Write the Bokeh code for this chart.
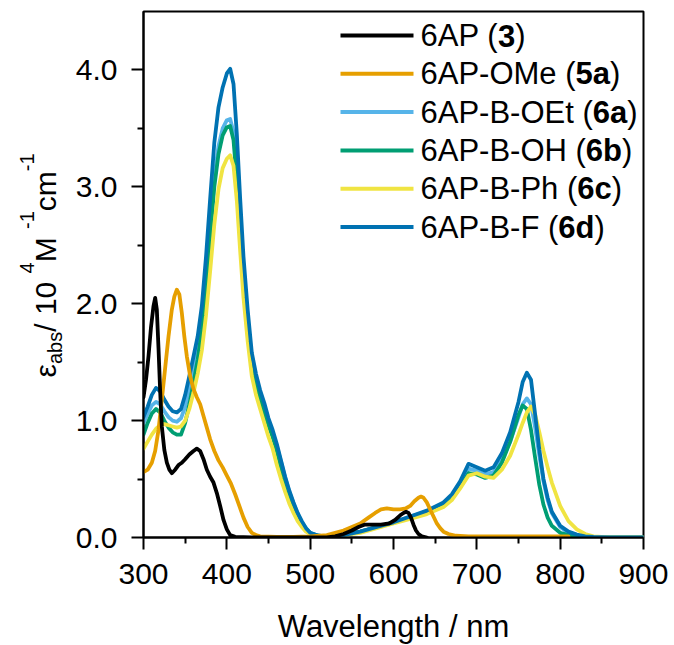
import math
from bokeh.plotting import figure
from bokeh.layouts import row, column
from bokeh.models import FixedTicker, NumeralTickFormatter, Label, BoxAnnotation
from bokeh.embed import file_html
from bokeh.resources import INLINE

# ---------------- data ----------------
# 6AP (3)
wl_3 = [300, 303, 306, 309, 312, 314, 316, 318, 320, 322, 325, 328, 331, 334, 338, 342, 346, 350, 355,
        360, 364, 368, 372, 376, 380, 384, 388, 392, 396, 400, 404, 410, 430, 460, 500, 520, 530, 540,
        550, 558, 565, 575, 585, 595, 602, 608, 612, 615, 618, 621, 624, 627, 630, 634, 640]
eps_3 = [1.2, 1.35, 1.55, 1.8, 1.98, 2.05, 1.95, 1.62, 1.25, 0.95, 0.75, 0.64, 0.58, 0.55, 0.58, 0.62, 0.64, 0.67, 0.71,
         0.74, 0.76, 0.74, 0.67, 0.58, 0.52, 0.47, 0.38, 0.27, 0.15, 0.07, 0.02, 0.005, 0.0, 0.0, 0.0, 0.0, 0.01, 0.03,
         0.06, 0.09, 0.11, 0.11, 0.11, 0.12, 0.15, 0.19, 0.21, 0.22, 0.21, 0.17, 0.11, 0.06, 0.03, 0.01, 0.0]

# 6AP-OMe (5a)
wl_5a = [300, 305, 310, 314, 318, 322, 326, 330, 334, 337, 340, 343, 346, 349, 352, 356, 360, 364, 368,
         372, 376, 380, 385, 390, 395, 400, 405, 410, 415, 420, 425, 430, 435, 440, 460, 480, 500, 520,
         530, 540, 550, 560, 570, 578, 585, 592, 600, 608, 615, 620, 625, 630, 633, 636, 640, 644, 648,
         652, 656, 660, 666, 675, 690, 720, 760, 810]
eps_5a = [0.56, 0.58, 0.64, 0.74, 0.92, 1.18, 1.45, 1.72, 1.95, 2.06, 2.12, 2.08, 1.92, 1.72, 1.55, 1.38, 1.27, 1.2, 1.14,
          1.04, 0.94, 0.84, 0.74, 0.66, 0.6, 0.53, 0.46, 0.37, 0.27, 0.17, 0.09, 0.04, 0.02, 0.01, 0.005, 0.005, 0.01, 0.02,
          0.04, 0.06, 0.09, 0.12, 0.17, 0.21, 0.24, 0.25, 0.24, 0.24, 0.25, 0.27, 0.31, 0.34, 0.35, 0.34, 0.3, 0.24, 0.18,
          0.12, 0.08, 0.05, 0.03, 0.015, 0.01, 0.01, 0.01, 0.01]

# common wavelength grid for 6a-6d
wl_6 = [300, 305, 310, 315, 320, 325, 330, 335, 340, 345, 350, 355, 360, 365, 370, 375, 380, 385, 390, 395,
        400, 404, 408, 412, 416, 420, 425, 430, 435, 440, 445, 450, 455, 460, 465, 470, 475, 480, 485, 490,
        495, 500, 510, 520, 540, 560, 580, 600, 620, 640, 660, 670, 680, 690, 700, 710, 720, 730, 740, 750,
        755, 760, 765, 770, 775, 780, 785, 790, 800, 810, 820, 830, 840, 860, 880, 900]

# 6AP-B-OEt (6a)
eps_6a = [0.98, 1.06, 1.13, 1.16, 1.14, 1.08, 1.03, 1.0, 0.99, 1.02, 1.12, 1.27, 1.43, 1.6, 1.84, 2.22, 2.66, 3.08, 3.35, 3.5,
          3.57, 3.58, 3.47, 3.1, 2.62, 2.2, 1.82, 1.5, 1.33, 1.21, 1.1, 0.99, 0.89, 0.78, 0.65, 0.51, 0.39, 0.29, 0.2, 0.13,
          0.08, 0.04, 0.015, 0.01, 0.02, 0.05, 0.09, 0.13, 0.18, 0.22, 0.28, 0.34, 0.45, 0.59, 0.57, 0.54, 0.56, 0.66, 0.82, 1.03,
          1.14, 1.19, 1.14, 0.94, 0.7, 0.48, 0.32, 0.21, 0.09, 0.04, 0.02, 0.01, 0.005, 0.0, 0.0, 0.0]

# 6AP-B-OH (6b)
eps_6b = [0.88, 0.98, 1.06, 1.1, 1.07, 1.0, 0.94, 0.9, 0.88, 0.88, 0.98, 1.14, 1.32, 1.52, 1.78, 2.15, 2.58, 3.0, 3.28, 3.44,
          3.51, 3.52, 3.4, 3.05, 2.58, 2.15, 1.78, 1.46, 1.3, 1.18, 1.07, 0.96, 0.86, 0.74, 0.6, 0.46, 0.35, 0.26, 0.18, 0.12,
          0.07, 0.035, 0.015, 0.01, 0.02, 0.05, 0.09, 0.13, 0.17, 0.21, 0.27, 0.33, 0.43, 0.55, 0.54, 0.51, 0.53, 0.64, 0.82, 1.05,
          1.13, 1.1, 0.92, 0.68, 0.45, 0.28, 0.17, 0.1, 0.04, 0.02, 0.01, 0.005, 0.0, 0.0, 0.0, 0.0]

# 6AP-B-Ph (6c)
eps_6c = [0.76, 0.82, 0.88, 0.93, 0.96, 0.97, 0.96, 0.95, 0.94, 0.95, 1.0, 1.1, 1.24, 1.4, 1.6, 1.9, 2.28, 2.68, 2.98, 3.16,
          3.24, 3.27, 3.18, 2.88, 2.45, 2.05, 1.68, 1.38, 1.22, 1.1, 0.98, 0.86, 0.76, 0.62, 0.5, 0.39, 0.29, 0.21, 0.14, 0.09,
          0.05, 0.03, 0.01, 0.01, 0.02, 0.04, 0.08, 0.12, 0.16, 0.2, 0.26, 0.32, 0.42, 0.53, 0.55, 0.52, 0.51, 0.58, 0.7, 0.88,
          0.98, 1.07, 1.12, 1.05, 0.9, 0.74, 0.6, 0.47, 0.27, 0.14, 0.07, 0.03, 0.01, 0.0, 0.0, 0.0]

# 6AP-B-F (6d)
eps_6d = [1.03, 1.12, 1.22, 1.28, 1.25, 1.18, 1.12, 1.08, 1.07, 1.1, 1.22, 1.38, 1.55, 1.72, 1.98, 2.4, 2.9, 3.38, 3.68, 3.85,
          3.97, 4.01, 3.88, 3.45, 2.9, 2.4, 1.95, 1.58, 1.4, 1.26, 1.15, 1.02, 0.92, 0.8, 0.66, 0.52, 0.4, 0.3, 0.21, 0.14,
          0.08, 0.04, 0.015, 0.01, 0.02, 0.05, 0.09, 0.13, 0.18, 0.23, 0.3, 0.37, 0.48, 0.63, 0.6, 0.57, 0.6, 0.72, 0.9, 1.16,
          1.33, 1.41, 1.35, 1.05, 0.75, 0.5, 0.34, 0.22, 0.1, 0.05, 0.025, 0.01, 0.005, 0.0, 0.0, 0.0]

x_ticks = [300, 400, 500, 600, 700, 800, 900]
x_minor = [350, 450, 550, 650, 750, 850]
y_ticks = [0, 1, 2, 3, 4]
y_minor = [0.5, 1.5, 2.5, 3.5]

legend_normal = ["6AP (", "6AP-OMe (", "6AP-B-OEt (", "6AP-B-OH (", "6AP-B-Ph (", "6AP-B-F ("]
legend_bold = ["3", "5a", "6a", "6b", "6c", "6d"]
colors = ["#000000", "#E69F00", "#56B4E9", "#009E73", "#F0E442", "#0072B2"]
x_label = "Wavelength / nm"
y_label_pieces = ["ε", "abs", " / 10", "4", " M", "-1", "cm", "-1"]

# ---------------- layout constants (page pixels) ----------------
FONT = "Liberation Sans"
TOTAL_W = 668
LAB_W = 72           # strip holding the y-axis label
MAIN_H = 600
XLAB_H = 44
FL, FR, FT, FB = 143, 643, 11, 537   # frame edges in page pixels
MID = 0.35           # distance baseline -> middle line, in em
ROT_DX, ROT_DY = -6.0, 61.0          # empirical correction for rotated labels

W = {' ': .278, '(': .333, ')': .333, '-': .333, '/': .278, 'A': .667, 'B': .667, 'E': .667, 'F': .611,
     'H': .722, 'M': .833, 'O': .778, 'P': .667, 'a': .556, 'b': .556, 'c': .5, 'd': .556, 'e': .556,
     'h': .556, 'm': .833, 's': .5, 't': .278, 'ε': .45}
WB = {'a': .556, 'b': .611, 'c': .556, 'd': .611}


def tw(s, size, bold=False):
    tot = 0.0
    for ch in s:
        if ch.isdigit():
            tot += .556
        elif bold and ch in WB:
            tot += WB[ch]
        else:
            tot += W.get(ch, .556)
    return tot * size


# ---------------- main figure ----------------
p = figure(width=TOTAL_W - LAB_W, height=MAIN_H, x_range=(300, 900), y_range=(0, 4.5),
           output_backend="svg", toolbar_location=None,
           min_border_left=FL - LAB_W, min_border_right=TOTAL_W - FR,
           min_border_top=FT, min_border_bottom=MAIN_H - FB)
p.background_fill_color = "white"
p.border_fill_color = "white"
p.grid.visible = False
p.outline_line_color = "black"
p.outline_line_width = 2

series = [(wl_3, eps_3, 0), (wl_5a, eps_5a, 1), (wl_6, eps_6a, 2), (wl_6, eps_6b, 3),
          (wl_6, eps_6c, 4), (wl_6, eps_6d, 5)]
draw_order = [2, 3, 4, 5, 1, 0]
for idx in draw_order:
    xs, ys, ci = series[idx]
    p.line(xs, ys, line_color=colors[ci], line_width=3.8, line_join="round", line_cap="round")

for ax in (p.xaxis[0], p.yaxis[0]):
    ax.axis_line_width = 2
    ax.major_tick_line_width = 2
    ax.minor_tick_line_width = 2
    ax.major_tick_in = 0
    ax.major_tick_out = 12
    ax.minor_tick_in = 0
    ax.minor_tick_out = 6
    ax.major_label_text_font = FONT
    ax.major_label_text_font_size = "30px"
    ax.major_label_text_color = "black"

p.xaxis[0].ticker = FixedTicker(ticks=x_ticks, minor_ticks=x_minor)
p.yaxis[0].ticker = FixedTicker(ticks=y_ticks, minor_ticks=y_minor)
p.yaxis[0].formatter = NumeralTickFormatter(format="0.0")
p.xaxis[0].major_label_standoff = 14
p.yaxis[0].major_label_standoff = 14

# ---------------- legend built from pieces (inside the frame) ----------------
LEG_SIZE = 31
for i in range(6):
    yc = 35 + 38.3 * i
    p.add_layout(BoxAnnotation(left=340 - FL, right=413 - FL, top=FB - (yc - 2), bottom=FB - (yc + 2),
                               left_units="screen", right_units="screen", top_units="screen",
                               bottom_units="screen", fill_color=colors[i], fill_alpha=1.0,
                               line_color=None))
    x0 = 420.0
    parts = [(legend_normal[i], "normal"), (legend_bold[i], "bold"), (")", "normal")]
    for txt, style in parts:
        p.add_layout(Label(x=x0 - FL, y=FB - yc, x_units="screen", y_units="screen", text=txt,
                           text_font=FONT, text_font_size=f"{LEG_SIZE}px", text_font_style=style,
                           text_align="left", text_baseline="middle", text_color="black"))
        x0 += tw(txt, LEG_SIZE, bold=(style == "bold"))

# ---------------- y-axis label strip (center-anchored rotated pieces) ----------------
ylab = figure(width=LAB_W, height=MAIN_H, x_range=(0, LAB_W), y_range=(0, MAIN_H),
              output_backend="svg", toolbar_location=None, x_axis_type=None, y_axis_type=None,
              min_border=0)
ylab.outline_line_color = None
ylab.grid.visible = False
sizes = [30, 20, 30, 20, 30, 20, 30, 20]
shifts = [0, 6, 0, -22, 0, -22, 0, -22]
Y0 = 379.0
BASE_X = 61.0
s = 0.0
for txt, size, shift in zip(y_label_pieces, sizes, shifts):
    w = tw(txt, size)
    mid_x = BASE_X + shift - MID * size + ROT_DX
    page_yc = Y0 - s - w / 2 + ROT_DY
    ylab.add_layout(Label(x=mid_x, y=MAIN_H - page_yc, x_units="screen", y_units="screen",
                          text=txt, angle=math.pi / 2, text_font=FONT, text_font_size=f"{size}px",
                          text_align="center", text_baseline="middle", text_color="black"))
    s += w

# ---------------- x-axis label strip ----------------
xlab = figure(width=TOTAL_W, height=XLAB_H, x_range=(0, TOTAL_W), y_range=(0, XLAB_H),
              output_backend="svg", toolbar_location=None, x_axis_type=None, y_axis_type=None,
              min_border=0)
xlab.outline_line_color = None
xlab.grid.visible = False
xlab.add_layout(Label(x=(FL + FR) / 2, y=MAIN_H + XLAB_H - (637 - MID * 31),
                      x_units="screen", y_units="screen", text=x_label,
                      text_font=FONT, text_font_size="31px",
                      text_align="center", text_baseline="middle", text_color="black"))

layout = column(row(ylab, p), xlab)
open("out.html", "w").write(file_html(layout, INLINE))
